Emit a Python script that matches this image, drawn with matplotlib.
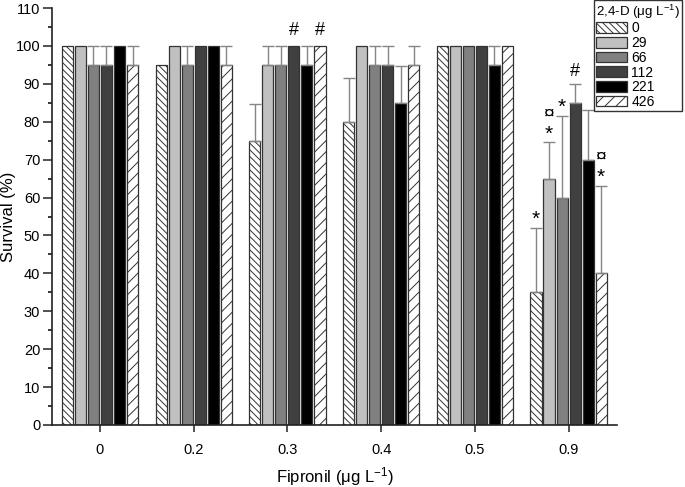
import matplotlib
matplotlib.use("Agg")
import matplotlib.pyplot as plt
import numpy as np

plt.rcParams['font.family'] = ['Liberation Sans', 'DejaVu Sans']
plt.rcParams['mathtext.fontset'] = 'custom'
plt.rcParams['mathtext.rm'] = 'Liberation Sans'
plt.rcParams['mathtext.it'] = 'Liberation Sans:italic'
plt.rcParams['mathtext.bf'] = 'Liberation Sans:bold'
plt.rcParams['hatch.linewidth'] = 0.7
plt.rcParams['hatch.color'] = '#333333'

fipronil = ['0', '0.2', '0.3', '0.4', '0.5', '0.9']
dose_labels = ['0', '29', '66', '112', '221', '426']

# survival (%) per 2,4-D dose, across fipronil groups
s0   = [100, 95, 75, 80, 100, 35]
s29  = [100, 100, 95, 100, 100, 65]
s66  = [95, 95, 95, 95, 100, 60]
s112 = [95, 100, 100, 95, 100, 85]
s221 = [100, 100, 95, 85, 95, 70]
s426 = [95, 95, 100, 95, 100, 40]

e0   = [0, 0, 9.6, 11.6, 0, 17]
e29  = [0, 0, 5, 0, 0, 9.6]
e66  = [5, 5, 5, 5, 0, 21.5]
e112 = [5, 0, 0, 5, 0, 5]
e221 = [0, 0, 5, 9.6, 5, 13]
e426 = [5, 5, 0, 5, 0, 23]

# significance marks above each bar (bottom-to-top lines)
m0   = ['', '', '', '', '', '*']
m29  = ['', '', '', '', '', '*\n¤']
m66  = ['', '', '', '', '', '*']
m112 = ['', '', '#', '', '', '#']
m221 = ['', '', '', '', '', '']
m426 = ['', '', '#', '', '', '*\n¤']

series = [s0, s29, s66, s112, s221, s426]
errors = [e0, e29, e66, e112, e221, e426]
marks = [m0, m29, m66, m112, m221, m426]
faces = ['white', '#c0c0c0', '#808080', '#404040', '#000000', 'white']
hatches = ['\\\\\\\\\\', '', '', '', '', '///']

fig = plt.figure(figsize=(6.85, 4.87), dpi=100)
ax = fig.add_axes([52/685, 1-425/487, (617-52)/685, (425-8)/487])

x = np.arange(len(fipronil))
pitch = 0.139
width = 0.118
handles = []
for i, (vals, err, fc, h, mk) in enumerate(zip(series, errors, faces, hatches, marks)):
    pos = x + (i - 2.5) * pitch
    b = ax.bar(pos, vals, width, color=fc, edgecolor='#333333', linewidth=0.9,
               hatch=h, label=dose_labels[i], zorder=2)
    handles.append(b)
    err = np.array(err, dtype=float)
    vals_a = np.array(vals, dtype=float)
    msk = err > 0
    ax.errorbar(pos[msk], vals_a[msk], yerr=[np.zeros(msk.sum()), err[msk]],
                fmt='none', ecolor='#858585', elinewidth=1.0, capsize=4, capthick=1.0,
                zorder=3)
    for p, v, e, m in zip(pos, vals_a, err, mk):
        if m:
            lines = m.split('\n')
            base = v + e + (1.0 if e > 0 else 1.8)
            for k, t in enumerate(lines):
                if t == '*':
                    ax.text(p, base - 1.3 + k * 4.3, t, ha='center', va='bottom',
                            fontsize=15, zorder=4)
                elif t == '#':
                    ax.text(p, base + k * 4.3, t, ha='center', va='bottom',
                            fontsize=13, zorder=4)
                else:
                    ax.text(p, base + k * 4.3, t, ha='center', va='bottom',
                            fontsize=14, zorder=4)

ax.set_xlim(-0.512, 5.517)
ax.set_ylim(0, 110)
ax.set_yticks(np.arange(0, 111, 10))
ax.set_yticks(np.arange(5, 110, 10), minor=True)
ax.set_xticks(x)
ax.set_xticklabels(fipronil)
ax.tick_params(axis='both', labelsize=10.5, direction='out', width=1.1, color='#222222')
ax.tick_params(axis='y', which='major', length=6.5, pad=2)
ax.tick_params(axis='y', which='minor', length=3, width=1.1)
ax.tick_params(axis='x', which='major', length=5, pad=8)
ax.spines['top'].set_visible(False)
ax.spines['right'].set_visible(False)
for s in ['left', 'bottom']:
    ax.spines[s].set_linewidth(1.2)
    ax.spines[s].set_color('#222222')

ax.set_xlabel('Fipronil (μg L$^{-1}$)', fontsize=12, labelpad=6)
ax.set_ylabel('Survival (%)', fontsize=12)
ax.yaxis.set_label_coords(-0.064, 0.5)

leg = fig.legend(handles=handles, labels=dose_labels, title='2,4-D (μg L$^{-1}$)',
                 loc='upper left', bbox_to_anchor=(594/685, 1-0.5/487),
                 bbox_transform=fig.transFigure, fontsize=10, title_fontsize=9.6,
                 frameon=True, fancybox=False, edgecolor='black', borderaxespad=0,
                 handlelength=2.25, handleheight=0.8, labelspacing=0.05,
                 handletextpad=0.3, borderpad=0.15)
leg.get_frame().set_linewidth(1.0)
leg._legend_box.align = 'left'

fig.savefig('out.png', dpi=100)
